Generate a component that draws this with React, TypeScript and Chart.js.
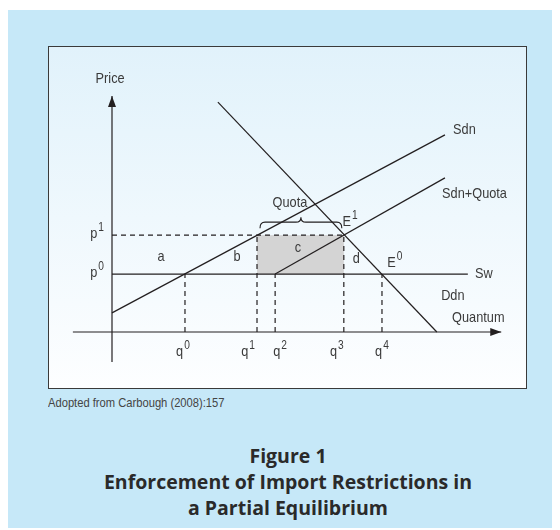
import React, { useEffect, useRef } from "react";
import { Chart, registerables } from "chart.js";

Chart.register(...registerables);

// ---- data ----
const qNames = ["q", "q", "q", "q", "q"];
const qSups = ["0", "1", "2", "3", "4"];
const qValues = [15.3, 30.4, 34.2, 48.6, 56.6];
const qPriceLevel = [0, 1, 0, 1, 0]; // index into pValues
const pSups = ["0", "1"];
const pValues = [17, 28.4];

const sdnX = [0, 69.8];
const sdnY = [5.6, 57.8];
const sdnQuotaX = [34.2, 69.8];
const sdnQuotaY = [17, 45.2];
const ddnX = [22.2, 68.1];
const ddnY = [67.4, 0];
const swX = [0, 74.6];

const xAxisRange = [-8.2, 81.6];
const yAxisRange = [-8.8, 69.2];

const areaLabels = ["a", "b", "c", "d"];
const areaX = [10.3, 26.2, 39.0, 51.2];
const areaY = [22.0, 22.0, 24.6, 21.4];

const eqLabels = ["E", "E"];
const eqSups = ["1", "0"];
const eqX = [49.9, 59.3];
const eqY = [32.3, 20.2];

const curveLabels = ["Sdn", "Sdn+Quota", "Sw", "Ddn", "Quantum"];
const curveLabelX = [71.5, 69.2, 76.1, 69.0, 71.3];
const curveLabelY = [59.2, 40.5, 17.0, 10.6, 4.1];

const quotaLabel = "Quota";
const quotaLabelPos = [37.3, 37.8];
const priceLabel = "Price";
const priceLabelPos = [-0.4, 74.2];

// ---- layout / style ----
const CW = 477;
const CH = 341;
const X_MIN = -63 / 4.77;
const X_MAX = X_MIN + 100;
const Y_MAX = 285 / 3.41;
const Y_MIN = Y_MAX - 100;
const INK = "#231f20";
const TXT = "#3a3a3a";
const FAMILY = "'Liberation Sans', Arial, sans-serif";
const LABEL_FONT = `15px ${FAMILY}`;
const SUP_FONT = `12px ${FAMILY}`;
const SX = 0.85; // horizontal condensing
const qLabelNudge = [-2, -9, 5, -7, 0];

function line(xs: number[], ys: number[], dashed = false) {
  return {
    data: xs.map((x, i) => ({ x, y: ys[i] })),
    showLine: true,
    borderColor: INK,
    borderWidth: 1.2,
    pointRadius: 0,
    borderDash: dashed ? [5, 4] : [],
    fill: false,
  };
}

function textW(ctx: CanvasRenderingContext2D, t: string, font: string) {
  ctx.font = font;
  return ctx.measureText(t).width * SX;
}

function drawText(
  ctx: CanvasRenderingContext2D,
  t: string,
  x: number,
  y: number,
  align: "left" | "center" | "right",
  font = LABEL_FONT
) {
  const w = textW(ctx, t, font);
  let left = x;
  if (align === "center") left = x - w / 2;
  if (align === "right") left = x - w;
  ctx.save();
  ctx.font = font;
  ctx.textAlign = "left";
  ctx.textBaseline = "middle";
  ctx.translate(left, y);
  ctx.scale(SX, 1);
  ctx.fillText(t, 0, 0);
  ctx.restore();
}

function drawSup(
  ctx: CanvasRenderingContext2D,
  base: string,
  sup: string,
  x: number,
  y: number,
  align: "left" | "center" | "right"
) {
  const bw = textW(ctx, base, LABEL_FONT);
  const sw = textW(ctx, sup, SUP_FONT);
  const total = bw + sw + 1;
  let left = x;
  if (align === "center") left = x - total / 2;
  if (align === "right") left = x - total;
  drawText(ctx, base, left, y, "left", LABEL_FONT);
  drawText(ctx, sup, left + bw + 1, y - 6, "left", SUP_FONT);
}

const diagramPlugin = {
  id: "diagram",
  beforeDatasetsDraw(chart: any) {
    const { ctx, scales } = chart;
    const X = (v: number) => scales.x.getPixelForValue(v);
    const Y = (v: number) => scales.y.getPixelForValue(v);
    ctx.save();
    ctx.fillStyle = "#d4d4d4";
    const x1 = X(qValues[1]);
    const x3 = X(qValues[3]);
    const yt = Y(pValues[1]);
    const yb = Y(pValues[0]);
    ctx.fillRect(x1, yt, x3 - x1, yb - yt);
    ctx.restore();
  },
  afterDatasetsDraw(chart: any) {
    const { ctx, scales } = chart;
    const X = (v: number) => scales.x.getPixelForValue(v);
    const Y = (v: number) => scales.y.getPixelForValue(v);
    ctx.save();
    // arrowheads
    ctx.fillStyle = INK;
    const tx = X(xAxisRange[1]);
    const ty = Y(0);
    ctx.beginPath();
    ctx.moveTo(tx, ty);
    ctx.lineTo(tx - 11, ty - 4);
    ctx.lineTo(tx - 11, ty + 4);
    ctx.closePath();
    ctx.fill();
    const ux = X(0);
    const uy = Y(yAxisRange[1]);
    ctx.beginPath();
    ctx.moveTo(ux, uy);
    ctx.lineTo(ux - 4, uy + 11);
    ctx.lineTo(ux + 4, uy + 11);
    ctx.closePath();
    ctx.fill();

    // brace above quota
    const bl = X(qValues[1]) + 3;
    const br = X(qValues[3]) - 2;
    const bc = (bl + br) / 2;
    const by = Y(pValues[1]) - 13;
    ctx.strokeStyle = INK;
    ctx.lineWidth = 1.1;
    ctx.beginPath();
    ctx.moveTo(bl, by + 6);
    ctx.quadraticCurveTo(bl, by, bl + 5, by);
    ctx.lineTo(bc - 5, by);
    ctx.quadraticCurveTo(bc, by, bc, by - 5);
    ctx.quadraticCurveTo(bc, by, bc + 5, by);
    ctx.lineTo(br - 5, by);
    ctx.quadraticCurveTo(br, by, br, by + 6);
    ctx.stroke();

    // texts
    ctx.fillStyle = TXT;
    drawText(ctx, priceLabel, X(priceLabelPos[0]), Y(priceLabelPos[1]), "center");
    drawText(ctx, quotaLabel, X(quotaLabelPos[0]), Y(quotaLabelPos[1]), "center");
    areaLabels.forEach((t, i) => drawText(ctx, t, X(areaX[i]), Y(areaY[i]), "center"));
    curveLabels.forEach((t, i) => drawText(ctx, t, X(curveLabelX[i]), Y(curveLabelY[i]), "left"));

    eqLabels.forEach((t, i) => drawSup(ctx, t, eqSups[i], X(eqX[i]), Y(eqY[i]), "center"));
    pSups.forEach((s, i) => drawSup(ctx, "p", s, X(0) - 8, Y(pValues[i]) - 1, "right"));
    qNames.forEach((t, i) => drawSup(ctx, t, qSups[i], X(qValues[i]) + qLabelNudge[i], Y(0) + 20, "center"));
    ctx.restore();
  },
};

function Diagram() {
  const ref = useRef<HTMLCanvasElement | null>(null);
  useEffect(() => {
    if (!ref.current) return;
    const guides = qValues.map((q, i) => line([q, q], [0, pValues[qPriceLevel[i]]], true));
    const chart = new Chart(ref.current, {
      type: "scatter",
      data: {
        datasets: [
          line(xAxisRange, [0, 0]),
          line([0, 0], yAxisRange),
          line([0, qValues[3]], [pValues[1], pValues[1]], true),
          ...guides,
          line(swX, [pValues[0], pValues[0]]),
          line(sdnX, sdnY),
          line(sdnQuotaX, sdnQuotaY),
          line(ddnX, ddnY),
        ] as any,
      },
      options: {
        animation: false,
        responsive: false,
        maintainAspectRatio: false,
        layout: { padding: 0 },
        events: [],
        scales: {
          x: { type: "linear", min: X_MIN, max: X_MAX, display: false },
          y: { type: "linear", min: Y_MIN, max: Y_MAX, display: false },
        },
        plugins: {
          legend: { display: false },
          tooltip: { enabled: false },
        },
      },
      plugins: [diagramPlugin],
    });
    return () => chart.destroy();
  }, []);
  return <canvas ref={ref} width={CW} height={CH} style={{ display: "block", width: CW, height: CH }} />;
}

export default function App() {
  return (
    <div
      style={{
        position: "relative",
        top: 2,
        width: 552,
        height: 520,
        background: "#c6e8f8",
        fontFamily: "'Open Sans', sans-serif",
      }}
    >
      <div
        style={{
          position: "absolute",
          left: 40,
          top: 36,
          width: CW,
          height: CH,
          border: "1px solid #3a3a3a",
          background: "linear-gradient(#e1f2fb, #fdfeff)",
        }}
      >
        <Diagram />
      </div>
      <div
        style={{
          position: "absolute",
          left: 40,
          top: 385,
          fontFamily: "'Liberation Sans', Arial, sans-serif",
          fontSize: 13,
          lineHeight: "16px",
          color: "#444",
          whiteSpace: "nowrap",
          transform: "scaleX(0.86)",
          transformOrigin: "left center",
        }}
      >
        Adopted from Carbough (2008):157
      </div>
      <div
        style={{
          position: "absolute",
          left: 8,
          top: 433,
          width: 544,
          textAlign: "center",
          fontWeight: 700,
          fontSize: 19.5,
          lineHeight: "26px",
          color: "#2a2a2a",
          whiteSpace: "nowrap",
        }}
      >
        Figure 1
        <br />
        Enforcement of Import Restrictions in
        <br />
        a Partial Equilibrium
      </div>
    </div>
  );
}
